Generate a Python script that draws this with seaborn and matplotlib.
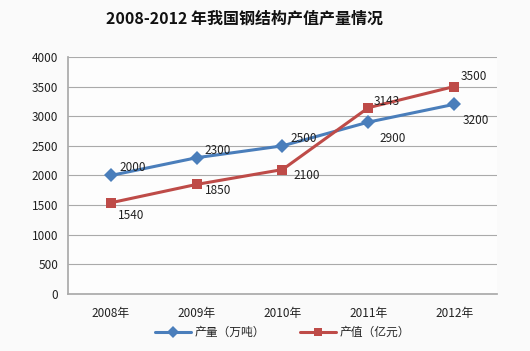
import matplotlib
matplotlib.use('Agg')
import matplotlib.pyplot as plt
import pandas as pd
import seaborn as sns

years = ['2008年', '2009年', '2010年', '2011年', '2012年']
output = [2000, 2300, 2500, 2900, 3200]   # 产量（万吨）
value = [1540, 1850, 2100, 3143, 3500]    # 产值（亿元）

sns.set_theme(style='white')
plt.rcParams['font.family'] = ['Noto Sans CJK SC', 'DejaVu Sans']

df = pd.DataFrame({'year': years * 2,
                   'v': output + value,
                   's': ['产量（万吨）'] * 5 + ['产值（亿元）'] * 5})
pos = {y: i for i, y in enumerate(years)}
df['x'] = df['year'].map(pos)

fig = plt.figure(figsize=(5.3, 3.51), dpi=100)
fig.patch.set_facecolor('#fafafa')
ax = fig.add_axes([0.128, 0.162, 0.81, 0.676])
ax.set_facecolor('#fdfdfd')

sns.lineplot(data=df, x='x', y='v', hue='s', style='s',
             palette=['#4a7ebb', '#be4b48'], markers=['D', 's'], dashes=False,
             markersize=7, linewidth=2.2, markeredgewidth=0, ax=ax)

ax.set_xlim(-0.5, 4.5)
ax.set_ylim(0, 4000)
ax.set_yticks(range(0, 4001, 500))
ax.set_xticks(range(5))
ax.set_xticklabels(years)
ax.set_xticks([i - 0.5 for i in range(6)], minor=True)
ax.tick_params(axis='x', which='major', length=0, pad=9, labelsize=8.5, colors='#222222')
ax.tick_params(axis='x', which='minor', length=4, color='#aaaaaa', direction='out')
ax.tick_params(axis='y', length=4, color='#aaaaaa', labelsize=8.5, colors='#222222', pad=3)
ax.yaxis.grid(True, color='#aaaaaa', linewidth=0.8)
ax.set_axisbelow(True)
for s in ['top', 'right']:
    ax.spines[s].set_visible(False)
for s in ['left', 'bottom']:
    ax.spines[s].set_color('#aaaaaa')
ax.set_xlabel('')
ax.set_ylabel('')

off_out = [(6, 3), (6, 3), (6, 3), (8, -14), (6, -14)]
off_val = [(5, -12), (6, -7), (8, -7), (4, 2), (5, 5)]
for i, (a, b) in enumerate(zip(output, value)):
    ax.annotate(str(a), (i, a), xytext=off_out[i], textcoords='offset points',
                fontsize=8.5, color='#222222')
    ax.annotate(str(b), (i, b), xytext=off_val[i], textcoords='offset points',
                fontsize=8.5, color='#222222')

ax.legend(loc='upper center', bbox_to_anchor=(0.5, -0.09), ncol=2, frameon=False,
          fontsize=8.5, handlelength=3, columnspacing=3, handletextpad=0.3,
          markerscale=0.85)

fig.suptitle('2008-2012 年我国钢结构产值产量情况', x=0.462, y=0.97,
             fontsize=11.5, fontweight='bold', color='#111111')

fig.savefig('out.png', dpi=100, facecolor=fig.get_facecolor())
